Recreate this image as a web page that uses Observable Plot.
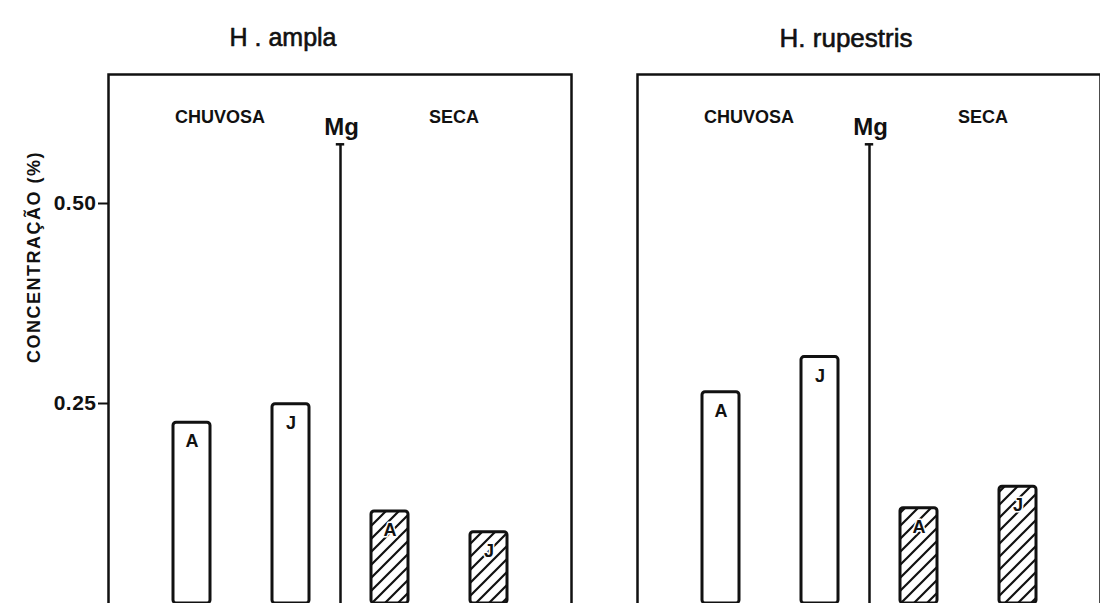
<!DOCTYPE html>
<html>
<head>
<meta charset="utf-8">
<script src="https://cdn.jsdelivr.net/npm/d3@7"></script>
<script src="https://cdn.jsdelivr.net/npm/@observablehq/plot@0.6"></script>
<style>
  html, body { margin: 0; padding: 0; background: #fff; overflow: hidden; }
  #chart svg { display: block; font-family: "Liberation Sans", Arial, sans-serif; }
  #chart svg [aria-label="y-axis tick"] { stroke-width: 2; }
  #chart svg [aria-label="y-axis tick label"] { font-weight: bold; font-size: 21px; letter-spacing: 0.5px; }
</style>
</head>
<body>
<div id="chart"></div>
<script>
// ---- data ----
const species = ["H . ampla", "H. rupestris"];
const barKeys = ["A-C", "J-C", "A-S", "J-S"];
const barLetters = ["A", "J", "A", "J"];
const barSeasons = ["CHUVOSA", "CHUVOSA", "SECA", "SECA"];
const amplaValues = [0.226, 0.249, 0.115, 0.089];
const rupestrisValues = [0.264, 0.308, 0.119, 0.146];
const mgTop = 0.574;
const yTicks = [0.25, 0.50];
const yLabel = "CONCENTRAÇÃO (%)";
const element = "Mg";

const seriesValues = [amplaValues, rupestrisValues];
const rows = species.flatMap((sp, i) =>
  barKeys.map((k, j) => ({species: sp, key: k, letter: barLetters[j], season: barSeasons[j], value: seriesValues[i][j]}))
);
const wet = rows.filter(d => d.season === "CHUVOSA");
const dry = rows.filter(d => d.season === "SECA");
const mgRows = species.map(sp => ({species: sp, key: "J-C", top: mgTop}));
const seasonRows = species.flatMap(sp => [
  {species: sp, key: "A-C", label: "CHUVOSA"},
  {species: sp, key: "A-S", label: "SECA"}
]);

const font = "Liberation Sans, Arial, sans-serif";

const plot = Plot.plot({
  width: 1100,
  height: 603,
  marginTop: 74,
  marginBottom: 0,
  marginLeft: 108,
  marginRight: 0,
  style: {fontFamily: font, color: "#111"},
  fx: {domain: species, padding: 0.1248, axis: null},
  x: {domain: barKeys, paddingInner: 0.63, paddingOuter: 0.65, axis: null},
  y: {domain: [0, 0.66125], ticks: yTicks, tickFormat: ".2f", tickSize: 10, tickPadding: 2, label: null},
  marks: [
    Plot.frame({stroke: "#111", strokeWidth: 2.5, insetBottom: -10}),
    Plot.barY(wet, {fx: "species", x: "key", y: "value", fill: "white", stroke: "#111", strokeWidth: 3, rx: 3}),
    Plot.barY(dry, {fx: "species", x: "key", y: "value", fill: "url(#hatch)", stroke: "#111", strokeWidth: 3, rx: 3}),
    Plot.text(rows, {fx: "species", x: "key", y: "value", text: "letter", dy: 19, fontSize: 18, fontWeight: "bold", fill: "#111", stroke: "white", strokeWidth: 3, paintOrder: "stroke"}),
    Plot.ruleX(mgRows, {fx: "species", x: "key", y1: 0, y2: "top", dx: 49.5, stroke: "#111", strokeWidth: 2.5}),
    Plot.tickY(mgRows, {fx: "species", x: "key", y: "top", dx: 49.5, insetLeft: 14.3, insetRight: 14.3, stroke: "#111", strokeWidth: 2.5}),
    Plot.text(mgRows, {fx: "species", x: "key", y: "top", text: () => element, dx: 50.5, dy: -17, fontSize: 24, fontWeight: "bold", fill: "#111"}),
    Plot.text(seasonRows.filter(d => d.label === "CHUVOSA"), {fx: "species", x: "key", text: "label", frameAnchor: "top", dy: 36, dx: 28, fontSize: 18, fontWeight: "bold", fill: "#111", letterSpacing: 2}),
    Plot.text(seasonRows.filter(d => d.label === "SECA"), {fx: "species", x: "key", text: "label", frameAnchor: "top", dy: 36, dx: 64, fontSize: 18, fontWeight: "bold", fill: "#111", letterSpacing: 2}),
    Plot.text([species[0]], {fx: d => d, text: d => d, frameAnchor: "top", dy: -46, dx: -57, fontSize: 25, fill: "#111", stroke: "#111", strokeWidth: 0.6}),
    Plot.text([species[1]], {fx: d => d, text: d => d, frameAnchor: "top", dy: -46, dx: -23, fontSize: 26, fill: "#111", stroke: "#111", strokeWidth: 0.6})
  ]
});

const svg = d3.select(plot);
const defs = svg.insert("defs", ":first-child");
const pat = defs.append("pattern")
  .attr("id", "hatch").attr("patternUnits", "userSpaceOnUse")
  .attr("width", 13).attr("height", 13);
pat.append("rect").attr("width", 13).attr("height", 13).attr("fill", "white");
pat.append("path").attr("d", "M-3.25,3.25 l6.5,-6.5 M0,13 l13,-13 M9.75,16.25 l6.5,-6.5")
  .attr("stroke", "#111").attr("stroke-width", 2.2);

svg.append("text")
  .attr("transform", "translate(35,257) rotate(-90)")
  .attr("text-anchor", "middle").attr("dominant-baseline", "middle")
  .attr("font-size", 18).attr("font-weight", "bold").attr("letter-spacing", 1.5)
  .attr("fill", "#111").attr("font-family", font)
  .text(yLabel);

document.getElementById("chart").appendChild(plot);
</script>
</body>
</html>
